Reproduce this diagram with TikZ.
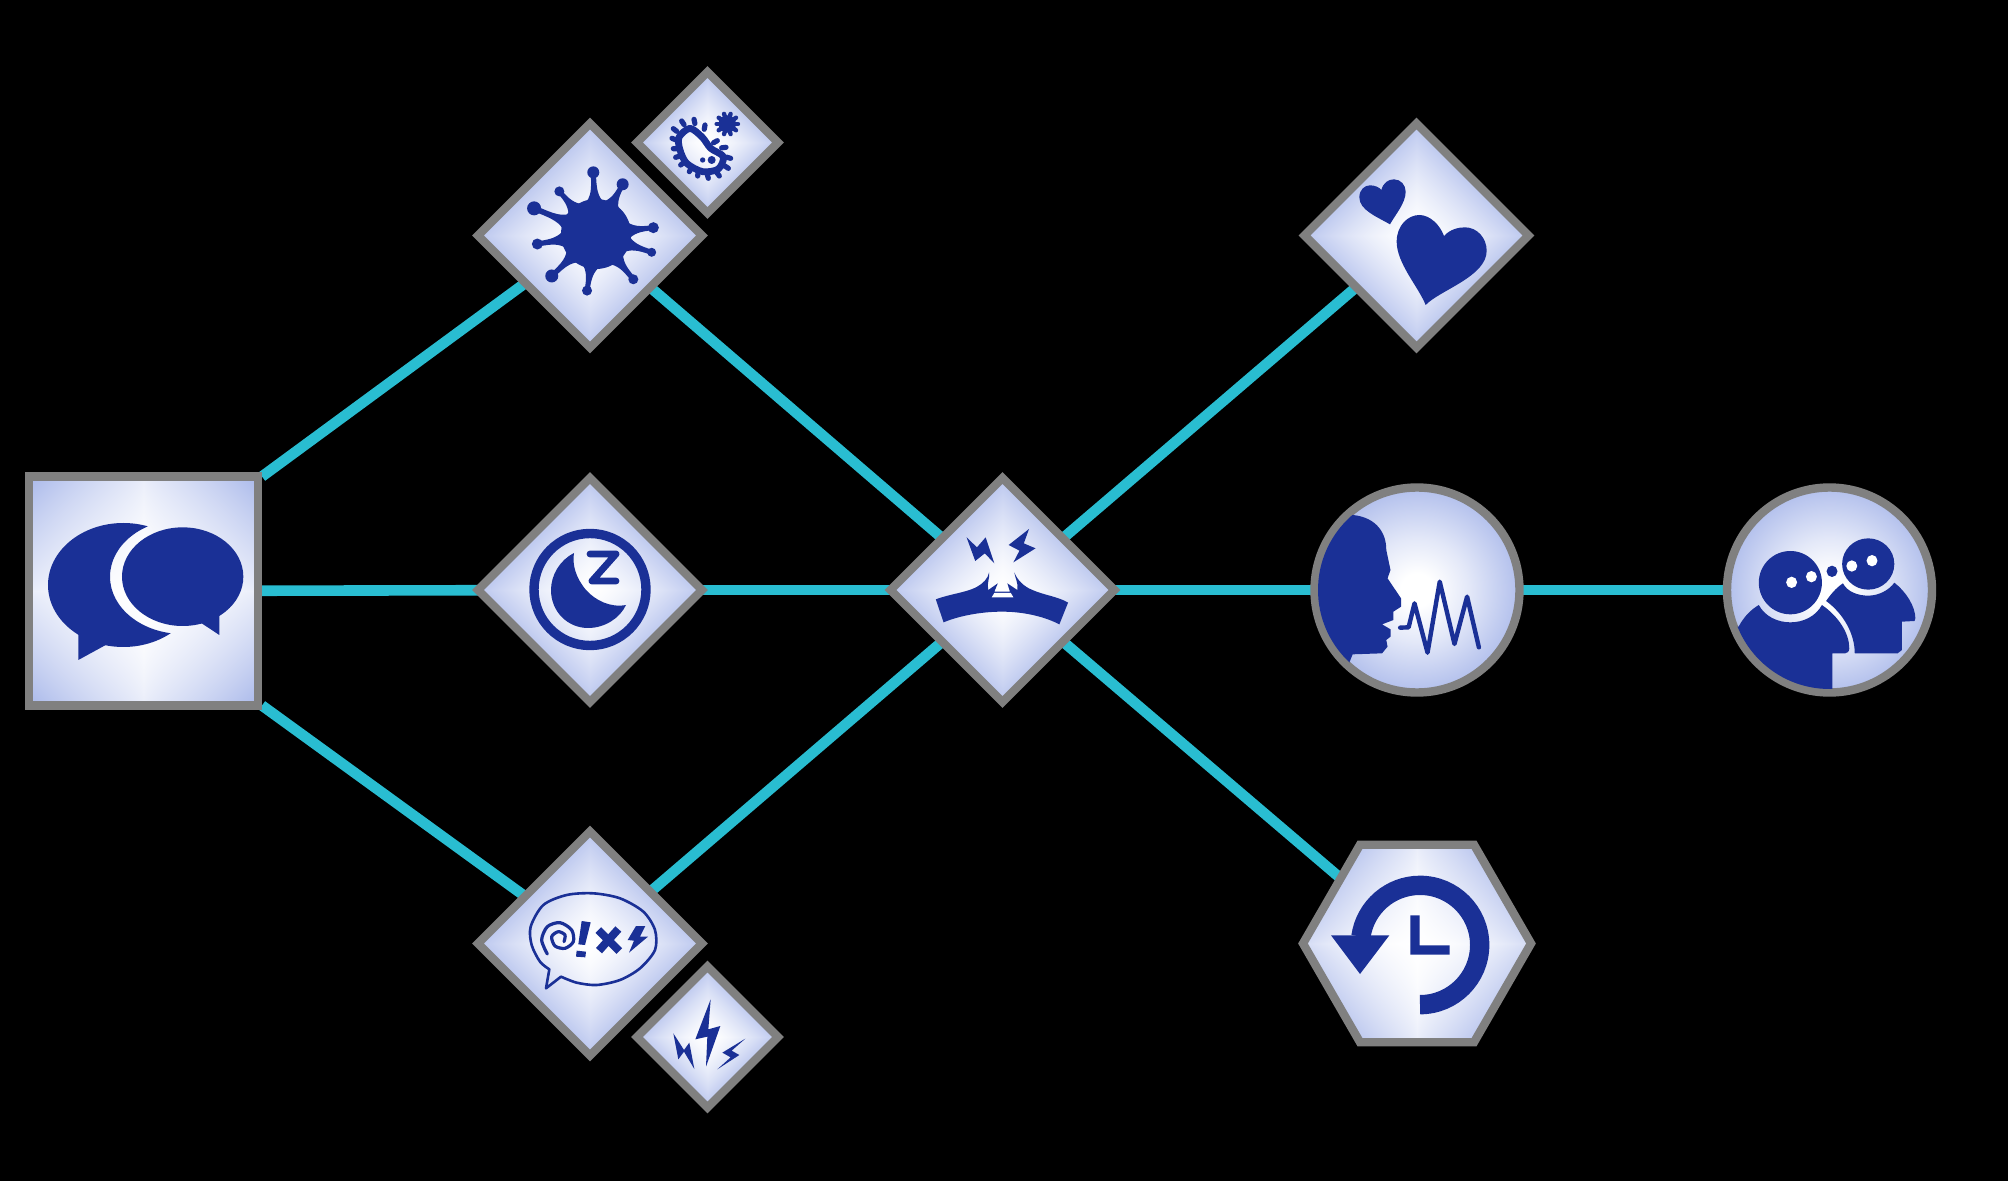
\documentclass[tikz,border=0pt]{standalone}
\usepackage{tikz}
\usetikzlibrary{calc,shapes.geometric}
\definecolor{wirecol}{HTML}{29BDD1}
\definecolor{rimcol}{HTML}{808080}
\definecolor{inkcol}{HTML}{1A3096}
\definecolor{haze}{HTML}{A9B8EA}
\pgfdeclarelayer{backdrop}
\pgfdeclarelayer{wires}
\pgfsetlayers{backdrop,wires,main}
\newcommand{\hazemix}{dup 0.337 mul 1 exch sub exch dup 0.278 mul 1 exch sub exch 0.082 mul 1 exch sub}
\pgfdeclarefunctionalshading{squareplate}{\pgfpoint{-50bp}{-50bp}}{\pgfpoint{50bp}{50bp}}{}{25 div abs exch 25 div abs dup dup mul 2 index dup mul add 0.25 mul 3 1 roll mul dup sqrt mul sqrt 0.5 mul add \hazemix}
\pgfdeclarefunctionalshading{diamondplate}{\pgfpoint{-50bp}{-50bp}}{\pgfpoint{50bp}{50bp}}{}{25 div abs exch 25 div abs add dup dup mul mul sqrt 0.8 mul \hazemix}
\pgfdeclarefunctionalshading{hexplate}{\pgfpoint{-50bp}{-50bp}}{\pgfpoint{50bp}{50bp}}{}{25 div abs exch 25 div abs dup dup mul 0.5 mul 2 index dup mul 0.25 mul add 3 1 roll mul dup sqrt mul sqrt 0.7 mul add \hazemix}
\pgfdeclareradialshading{roundplate}{\pgfpoint{0bp}{0bp}}{color(0bp)=(white); color(4bp)=(white); color(12.5bp)=(haze!32!white); color(25bp)=(haze!90!white)}
\tikzset{
  every picture/.style={line join=miter},
  plate/.style={draw=rimcol,line width=4.2pt,inner sep=0pt,shading=#1},
  bigdiamond/.style={plate=diamondplate,diamond,aspect=1,minimum size=113.7pt},
  tinydiamond/.style={plate=diamondplate,diamond,aspect=1,minimum size=72.2pt},
  roundnode/.style={plate=roundplate,circle,minimum size=102.5pt},
  wire/.style={draw=wirecol,line width=5.3pt},
  ink/.style={fill=inkcol,draw=none},
  inkline/.style={draw=inkcol,line cap=round,line join=round},
}
\begin{document}
\begin{tikzpicture}[x=0.5pt,y=-0.5pt]
\useasboundingbox (0,0) rectangle (2008,1181);
\begin{pgfonlayer}{backdrop}
\fill[black] (0,0) rectangle (2008,1181);
\end{pgfonlayer}
\node[plate=squareplate,rectangle,minimum size=114.3pt] (talk) at (143.5,591) {};
\node[bigdiamond] (virus) at (590,235.5) {};
\node[tinydiamond] (germ) at (707.5,142.5) {};
\node[bigdiamond] (sleep) at (590,590) {};
\node[bigdiamond] (rage) at (590,943.5) {};
\node[tinydiamond] (bolts) at (707.5,1037) {};
\node[bigdiamond] (clash) at (1002.5,590) {};
\node[bigdiamond] (love) at (1416.5,235.5) {};
\node[roundnode] (voice) at (1417,590) {};
\node[roundnode] (pair) at (1829.5,590) {};
\node[plate=hexplate,regular polygon,regular polygon sides=6,minimum size=114pt] (past) at (1417,943.5) {};
\begin{pgfonlayer}{wires}
\draw[wire] ([yshift=-2pt]talk.north east)--(virus.center);
\draw[wire] (talk.center)--(sleep.center);
\draw[wire] ([yshift=2pt]talk.south east)--(rage.center);
\draw[wire] (virus.center)--(clash.center);
\draw[wire] (sleep.center)--(clash.center);
\draw[wire] (rage.center)--(clash.center);
\draw[wire] (clash.center)--(love.center);
\draw[wire] (clash.center)--(voice.center);
\draw[wire] (clash.center)--(past.center);
\draw[wire] (voice.center)--(pair.center);
\end{pgfonlayer}
% talk
\begin{scope}[shift={(10,460)},scale=1/3]
\begin{scope}[even odd rule]
\clip (0,0) rectangle (800,800) (518,350) ellipse[x radius=218,y radius=172];
\fill[ink] (340,375) ellipse[x radius=226,y radius=186];
\fill[ink] (205,500)--(205,600)--(300,548)--cycle;
\end{scope}
\fill[ink] (518,350) ellipse[x radius=182,y radius=148];
\fill[ink] (560,480)--(628,525)--(628,450)--cycle;
\end{scope}
% virus
\begin{scope}[shift={(596,234)}]
\fill[ink] (0,0) circle[radius=35];
\foreach \a/\l/\r in {-92.5/61.7/6,-61.8/56.4/6,-130.7/56.2/5,-157.5/67/7,170.3/59.5/5.5,136.5/61/6.5,99/57.3/5,50.5/58.7/5,18.2/58.6/4.5,-6.3/57.7/5.5}{
  \fill[ink] (\a-18:32) .. controls (\a-5:38) and (\a-3:44) .. (\a-2.5:\l) -- (\a+2.5:\l) .. controls (\a+3:44) and (\a+5:38) .. (\a+18:32) -- cycle;
  \fill[ink] (\a:\l) circle[radius=\r];
}
\end{scope}
% germ
\begin{scope}[shift={(460,50)},scale=1/3]
\draw[inkline,line width=3.4pt] plot[smooth cycle] coordinates {(657,262) (690,235) (727,262) (752,295) (790,320) (775,357) (728,365) (680,340) (660,300)};
\foreach \x/\y in {640/236,665/213,702/208,735/225,772/272,798/292,812/325,805/355,778/378,745/385,713/378,688/365,662/345,647/322,640/296,636/265}{
  \draw[inkline,line width=2.6pt] (\x,\y)--($(\x,\y)!6.5pt!(722,300)$);
}
\fill[ink] (728,330) circle[radius=8];
\fill[ink] (755,330) circle[radius=12];
\fill[ink] (802,222) circle[radius=26];
\foreach \a in {0,36,...,324}{
  \draw[inkline,line width=2.2pt] (802,222)--++(\a:32);
}
\end{scope}
% sleep
\draw[inkcol,line width=4.7pt] (590,589.5) circle[radius=56];
\fill[ink] (574,553) .. controls (560,560) and (551,575) .. (551,590) .. controls (551,612) and (568,628) .. (588,628) .. controls (605,628) and (620,618) .. (626,605) .. controls (610,608) and (595,600) .. (586,590) .. controls (576,578) and (572,565) .. (574,553) -- cycle;
\draw[inkline,line width=3.4pt] (590,554)--(616,554)--(592,581)--(616,581);
% clash
\begin{scope}[shift={(460,460)},xscale=0.4337,yscale=1/3]
\fill[ink] (1168,232)--(1192,262)--(1212,232)--(1232,310)--(1210,280)--(1188,303)--cycle;
\fill[ink] (1312,207)--(1265,255)--(1290,272)--(1276,307)--(1327,265)--(1300,250)--cycle;
\fill[ink] (1097,418) .. controls (1130,402) and (1165,398) .. (1190,382) .. controls (1205,372) and (1218,355) .. (1220,337) .. controls (1222,355) and (1214,370) .. (1218,390) -- (1240,370) -- (1232,395) -- (1268,395) -- (1262,370) -- (1285,390) .. controls (1288,370) and (1280,355) .. (1278,337) .. controls (1285,360) and (1300,380) .. (1320,390) .. controls (1345,405) and (1380,410) .. (1402,428) -- (1382,493) .. controls (1340,465) and (1290,455) .. (1250,455) .. controls (1200,455) and (1150,468) .. (1115,487) -- cycle;
\fill[white] (1232,399)--(1270,399)--(1276,412)--(1226,412)--cycle;
\end{scope}
% rage
\begin{scope}[shift={(460,820)},scale=1/3]
\draw[inkline,line width=1.3pt] plot[smooth] coordinates {(268,448) (240,425) (215,375) (212,320) (250,255) (320,225) (400,220) (480,235) (550,275) (585,330) (585,390) (540,445) (480,480) (410,495) (350,488) (303,470)} -- (258,505) -- cycle;
\draw[inkline,line width=1.6pt] plot[smooth] coordinates {(262,402) (245,360) (262,320) (300,308) (335,330) (340,365) (315,385) (285,378) (275,350) (295,335) (315,345) (312,365)};
\fill[ink] (365,303)--(392,307)--(375,375)--(355,373)--cycle;
\fill[ink] (350,392)--(378,395)--(376,412)--(348,410)--cycle;
\draw[inkcol,line width=4pt] (415,330)--(478,393);
\draw[inkcol,line width=4pt] (475,327)--(417,392);
\fill[ink] (528,318)--(556,318)--(540,350)--(564,350)--(507,398)--(522,362)--(503,360)--cycle;
% bolts
\fill[ink] (752,538)--(706,658)--(742,650)--(738,740)--(781,618)--(745,628)--cycle;
\fill[ink] (640,640)--(655,718)--(672,695)--(703,747)--(688,668)--(672,690)--cycle;
\fill[ink] (856,656)--(787,698)--(812,712)--(772,748)--(838,705)--(815,692)--cycle;
\end{scope}
% love
\begin{scope}[shift={(1290,110)},scale=1/3]
\fill[ink] (300,343) .. controls (260,320) and (208,300) .. (208,262) .. controls (208,238) and (225,226) .. (240,226) .. controls (255,226) and (268,232) .. (274,240) .. controls (280,218) and (295,208) .. (312,208) .. controls (332,208) and (347,225) .. (347,245) .. controls (347,280) and (315,315) .. (300,343) -- cycle;
\fill[ink] (407,585) .. controls (385,530) and (320,460) .. (320,395) .. controls (320,345) and (355,315) .. (388,315) .. controls (420,315) and (450,345) .. (462,378) .. controls (480,358) and (505,352) .. (525,352) .. controls (562,352) and (590,385) .. (590,422) .. controls (590,500) and (450,540) .. (407,585) -- cycle;
\end{scope}
% voice
\begin{scope}
\clip (1417,590) circle[radius=99];
\begin{scope}[shift={(1300,470)},xscale=0.4209,yscale=1/3]
\fill[ink] (0,100)--(125,135) .. controls (170,140) and (205,175) .. (205,240) -- (215,300) -- (208,325) -- (240,385) -- (240,410) -- (222,425) -- (222,450) -- (195,463) -- (215,478) -- (215,500) -- (205,510) -- (208,530) -- (195,550) -- (125,553) -- (118,575) -- (118,700) -- (0,700) -- cycle;
\end{scope}
\end{scope}
\begin{scope}[shift={(1300,470)},xscale=0.4209,yscale=1/3]
\draw[inkline,line width=2.2pt] (238,473)--(258,472)--(272,400)--(303,548)--(332,335)--(367,522)--(397,380)--(425,532);
\end{scope}
% pair
\begin{scope}
\clip (1829.5,590) circle[radius=99];
\begin{scope}[shift={(1300,470)},xscale=0.4209,yscale=1/3]
\fill[ink] (1042,470) .. controls (1055,440) and (1070,420) .. (1090,405) .. controls (1105,440) and (1135,457) .. (1165,457) .. controls (1195,457) and (1225,440) .. (1240,405) .. controls (1280,440) and (1305,490) .. (1305,535) .. controls (1305,545) and (1300,550) .. (1295,550) -- (1265,550) -- (1265,700) -- (1000,700) -- (1000,470) -- cycle;
\end{scope}
\end{scope}
\begin{scope}[shift={(1300,470)},xscale=0.4209,yscale=1/3]
\fill[ink] (1290,340) .. controls (1300,365) and (1325,377) .. (1350,377) .. controls (1375,377) and (1400,360) .. (1412,338) .. controls (1440,365) and (1462,410) .. (1462,445) -- (1460,453) -- (1430,455) -- (1430,540) -- (1420,550) -- (1318,550) .. controls (1318,490) and (1290,430) .. (1250,393) .. controls (1260,375) and (1272,355) .. (1290,340) -- cycle;
\fill[ink] (1165,338) ellipse[x radius=75,y radius=95];
\fill[ink] (1350,282) ellipse[x radius=62,y radius=77];
\fill[ink] (1264,304) ellipse[x radius=13,y radius=17];
\foreach \x/\y in {1168/337,1215/320,1311/288,1359/272}{
  \fill[white] (\x,\y) ellipse[x radius=13,y radius=17];
}
\end{scope}
% past
\begin{scope}[shift={(1290,830)},scale=1/3]
\draw[inkcol,line width=9.67pt] (390,524) arc[start angle=90,end angle=-172,radius=179];
\fill[ink] (123,316)--(298,316)--(210,432)--cycle;
\fill[ink] (361,256)--(389,256)--(389,346)--(479,346)--(479,374)--(361,374)--cycle;
\end{scope}
\end{tikzpicture}
\end{document}
